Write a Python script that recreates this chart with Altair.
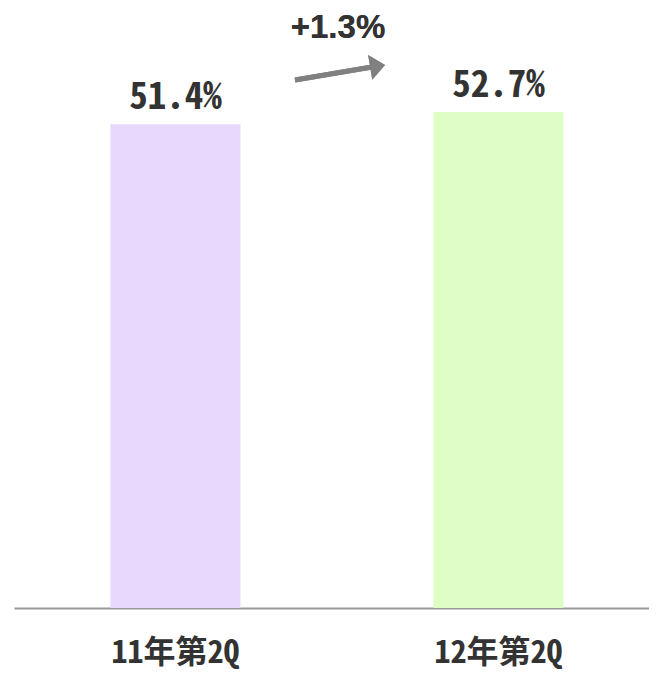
import altair as alt
import pandas as pd

categories = ["11年第2Q", "12年第2Q"]
values = [51.4, 52.7]
value_labels = ["51.4%", "52.7%"]
bar_colors = ["#E7D8FD", "#DFFEC5"]
change_label = "+1.3%"

df = pd.DataFrame({"cat": categories, "val": values, "lab": value_labels})

mono = "Noto Sans Mono CJK JP, Noto Sans CJK JP"

x = alt.X("cat:N", sort=categories, title=None,
          scale=alt.Scale(paddingInner=0.5975, paddingOuter=0.2817, align=0.53),
          axis=alt.Axis(labelAngle=0, ticks=False, tickSize=0, labelPadding=54,
                        labelBaseline="alphabetic", labelFontSize=32,
                        labelFont=mono, labelFontWeight="bold",
                        labelColor="#333333", domainColor="#999999", domainWidth=2,
                        grid=False))
y = alt.Y("val:Q", scale=alt.Scale(domain=[0, 63], nice=False, zero=True), axis=None)

base = alt.Chart(df)
bars = base.mark_bar().encode(
    x=x, y=y,
    color=alt.Color("cat:N", scale=alt.Scale(domain=categories, range=bar_colors), legend=None),
)
labels = base.mark_text(baseline="alphabetic", dy=-15, fontSize=37, fontWeight="bold",
                        font=mono, color="#333333").encode(
    x=x, y=y, text="lab:N")

arrow_line = alt.Chart(df).mark_rule(color="#808080", strokeWidth=5).encode(
    x=alt.value(281), y=alt.value(65), x2=alt.value(358), y2=alt.value(52))
arrow_head = alt.Chart(df).mark_point(
    shape="M-0.6,-1 L0.6,0 L-0.6,1 Z", filled=True, color="#808080", opacity=1,
    size=625, angle=350.5).encode(x=alt.value(363.6), y=alt.value(51.2))
change_text = alt.Chart(df).mark_text(
    text=change_label, fontSize=33, fontWeight="bold", font="Liberation Sans",
    color="#333333", baseline="alphabetic", align="center").encode(
    x=alt.value(324), y=alt.value(23))

chart = alt.layer(bars, labels, arrow_line, arrow_head, change_text).properties(
    width=635, height=593,
    padding={"left": 6, "top": 7, "right": 0, "bottom": 65},
    autosize="none",
).configure_view(stroke=None)

chart.save("out.html", embed_options={"renderer": "svg", "actions": False})
